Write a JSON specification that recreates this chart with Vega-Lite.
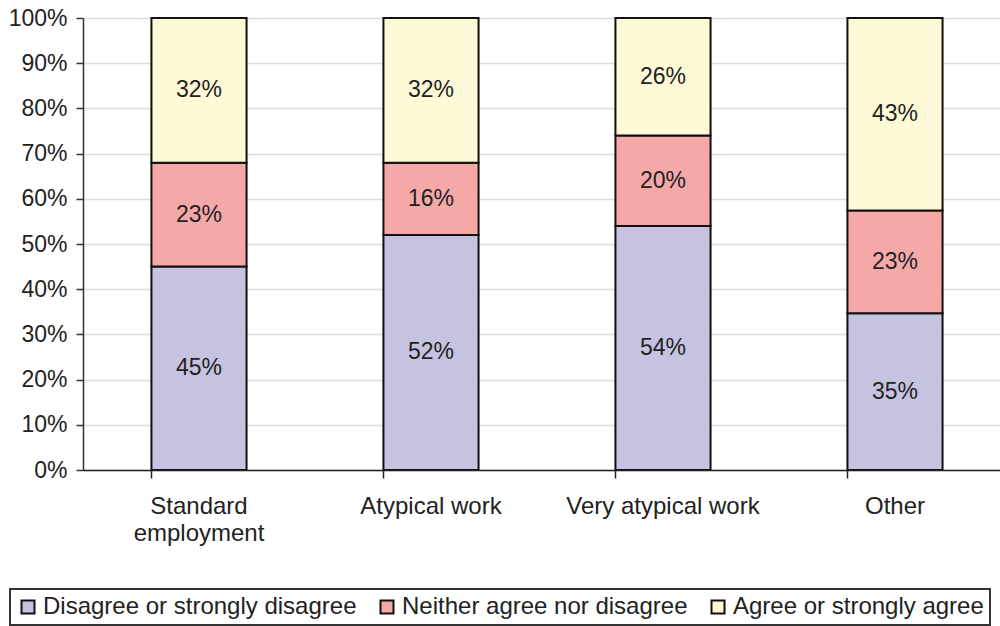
{
  "$schema": "https://vega.github.io/schema/vega-lite/v6.json",
  "autosize": {"type": "none"},
  "padding": {"left": 83, "top": 18, "right": 0, "bottom": 156},
  "width": 928,
  "height": 452,
  "background": "white",
  "config": {
    "font": "Liberation Sans",
    "view": {"stroke": null},
    "axis": {"labelFont": "Liberation Sans", "labelColor": "#222"}
  },
  "data": {
    "values": [
      {"category": "Standard employment", "response": "Disagree or strongly disagree", "value": 0.45},
      {"category": "Standard employment", "response": "Neither agree nor disagree", "value": 0.23},
      {"category": "Standard employment", "response": "Agree or strongly agree", "value": 0.32},
      {"category": "Atypical work", "response": "Disagree or strongly disagree", "value": 0.52},
      {"category": "Atypical work", "response": "Neither agree nor disagree", "value": 0.16},
      {"category": "Atypical work", "response": "Agree or strongly agree", "value": 0.32},
      {"category": "Very atypical work", "response": "Disagree or strongly disagree", "value": 0.54},
      {"category": "Very atypical work", "response": "Neither agree nor disagree", "value": 0.20},
      {"category": "Very atypical work", "response": "Agree or strongly agree", "value": 0.26},
      {"category": "Other", "response": "Disagree or strongly disagree", "value": 0.35},
      {"category": "Other", "response": "Neither agree nor disagree", "value": 0.23},
      {"category": "Other", "response": "Agree or strongly agree", "value": 0.43}
    ]
  },
  "transform": [
    {"calculate": "indexof(['Disagree or strongly disagree','Neither agree nor disagree','Agree or strongly agree'], datum.response)", "as": "ord"},
    {"stack": "value", "groupby": ["category"], "offset": "normalize", "sort": [{"field": "ord", "order": "ascending"}], "as": ["y0", "y1"]},
    {"calculate": "(datum.y0 + datum.y1) / 2", "as": "ymid"}
  ],
  "encoding": {
    "x": {
      "field": "category",
      "type": "nominal",
      "sort": ["Standard employment", "Atypical work", "Very atypical work", "Other"],
      "scale": {"paddingInner": 0.59, "paddingOuter": 0.295},
      "axis": {
        "title": null,
        "labelAngle": 0,
        "labelFontSize": 24,
        "labelLimit": 400,
        "bandPosition": 0,
        "domainColor": "#222",
        "domainWidth": 1.5,
        "tickColor": "#222",
        "tickWidth": 1.5,
        "tickSize": 8,
        "labelPadding": 16,
        "labelBaseline": "top",
        "labelLineHeight": 27,
        "zindex": 1,
        "labelExpr": "datum.label == 'Standard employment' ? ['Standard', 'employment'] : datum.label"
      }
    }
  },
  "layer": [
    {
      "mark": {"type": "bar", "stroke": "#111", "strokeWidth": 2},
      "encoding": {
        "y": {
          "field": "y0",
          "type": "quantitative",
          "scale": {"domain": [0, 1], "nice": false},
          "axis": {
            "title": null,
            "format": ".0%",
            "labelFontSize": 23,
            "values": [0, 0.1, 0.2, 0.3, 0.4, 0.5, 0.6, 0.7, 0.8, 0.9, 1],
            "grid": true,
            "gridColor": "#e0dbd6",
            "gridWidth": 1.5,
            "domainColor": "#333",
            "domainWidth": 1.5,
            "tickColor": "#333",
            "tickWidth": 1.5,
            "tickSize": 7,
            "labelPadding": 9
          }
        },
        "y2": {"field": "y1"},
        "color": {
          "field": "response",
          "type": "nominal",
          "scale": {
            "domain": ["Disagree or strongly disagree", "Neither agree nor disagree", "Agree or strongly agree"],
            "range": ["#c6c3e0", "#f4a8a8", "#fef9d7"]
          },
          "legend": {
            "title": null,
            "orient": "none",
            "direction": "horizontal",
            "legendX": -73,
            "legendY": 571,
            "padding": 6,
            "strokeColor": "#333",
            "symbolType": "square",
            "symbolSize": 169,
            "symbolStrokeColor": "#111",
            "symbolStrokeWidth": 2,
            "symbolOpacity": 1,
            "labelFont": "Liberation Sans",
            "labelFontSize": 24,
            "labelColor": "#222",
            "labelOffset": 3,
            "columnPadding": 18,
            "labelLimit": 400,
            "encode": {"legend": {"update": {"strokeWidth": {"value": 2}}}}
          }
        }
      }
    },
    {
      "mark": {"type": "text", "font": "Liberation Sans", "fontSize": 23, "color": "#222", "baseline": "middle"},
      "encoding": {
        "y": {"field": "ymid", "type": "quantitative"},
        "text": {"field": "value", "type": "quantitative", "format": ".0%"}
      }
    }
  ]
}
